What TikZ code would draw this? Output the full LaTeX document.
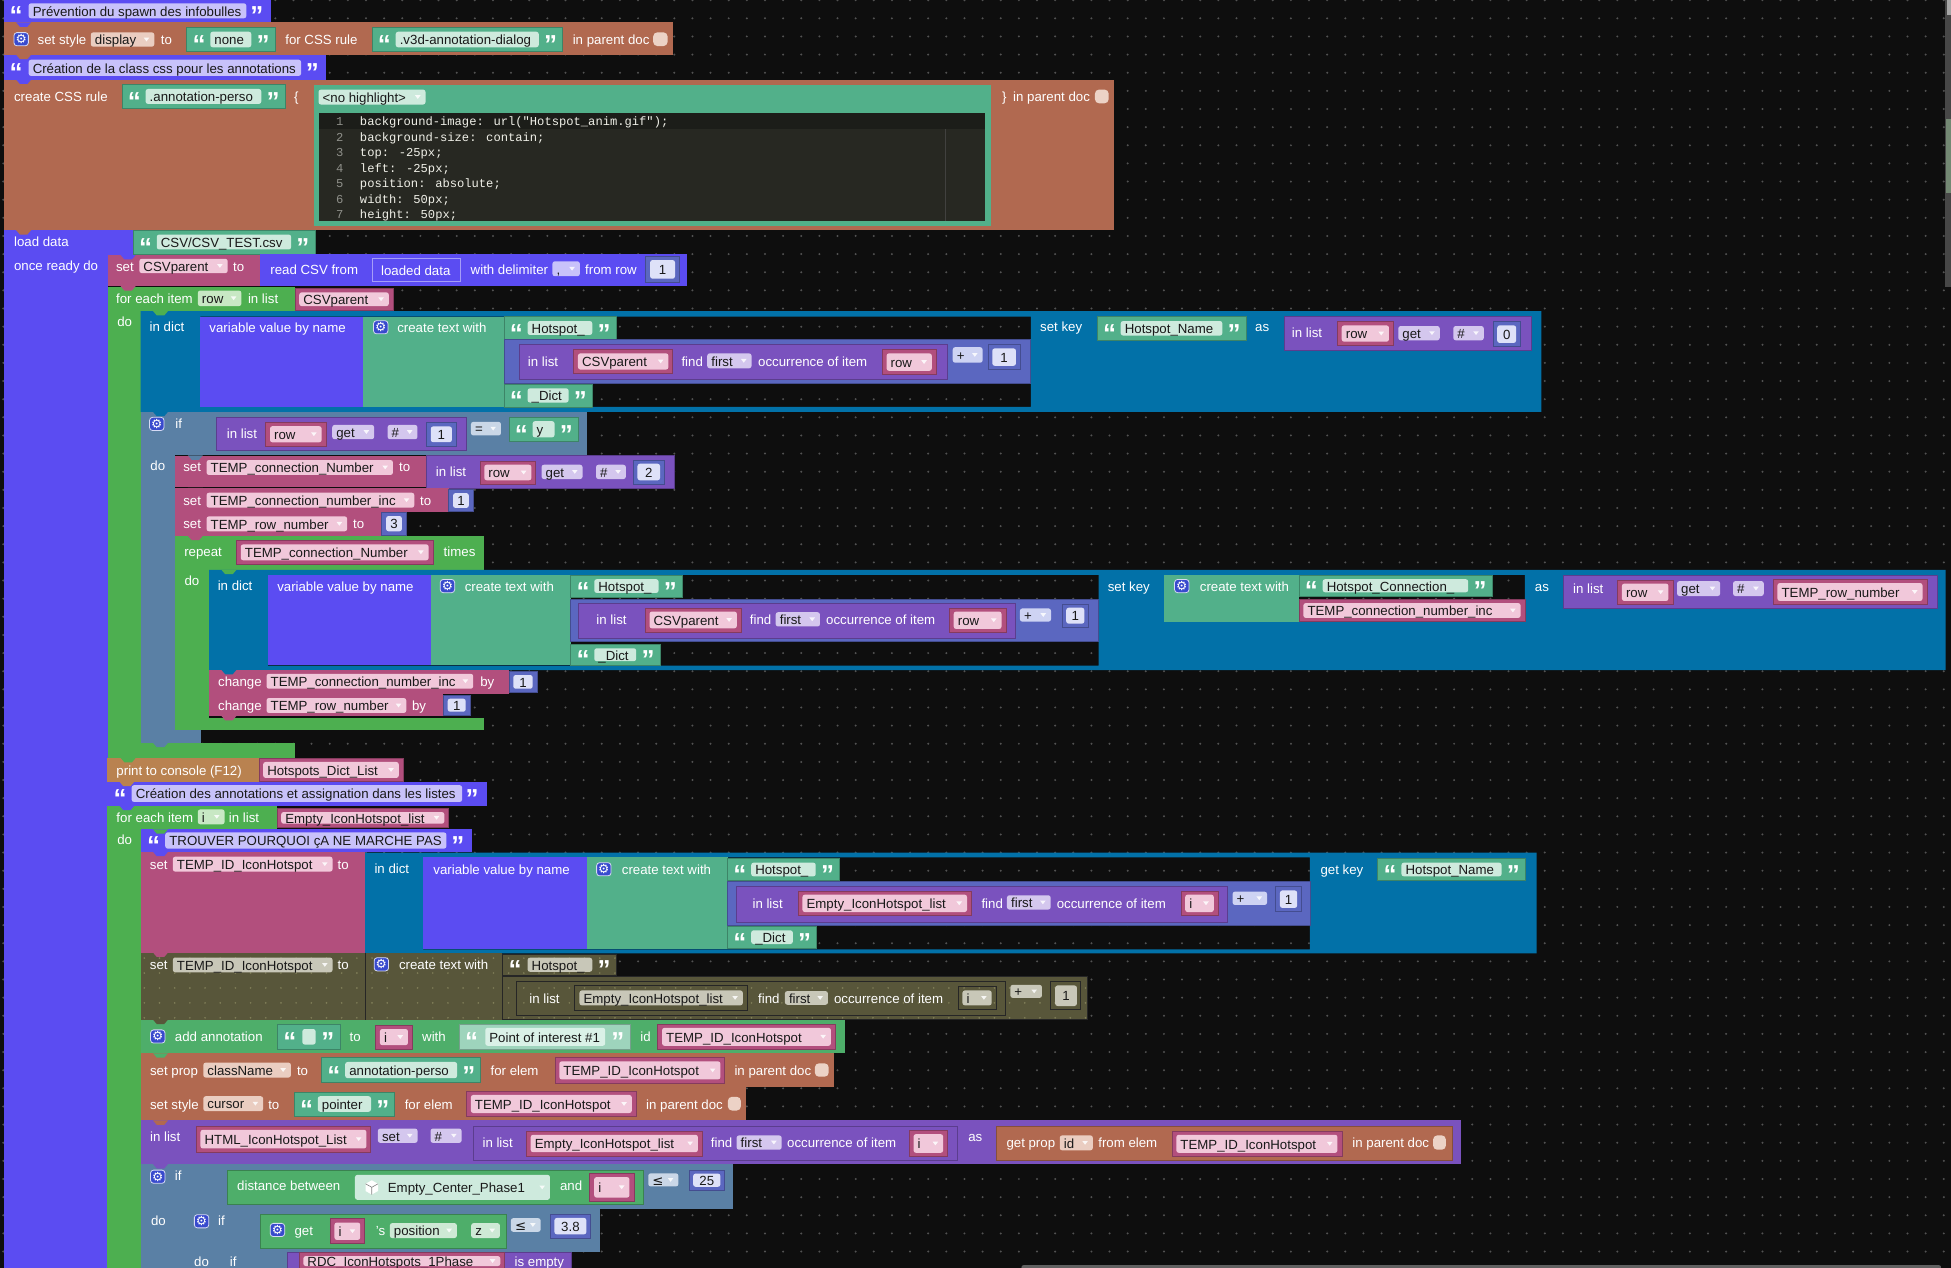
\documentclass[tikz,border=0pt]{standalone}
\usepackage{fontspec}
\setmainfont{Liberation Sans}
\newfontfamily\codefont{Liberation Mono}
\newfontfamily\symfont{DejaVu Sans}
\definecolor{bg}{RGB}{14,14,14}
\definecolor{dotc}{RGB}{82,82,82}
\definecolor{vio}{RGB}{91,76,242}
\definecolor{viof}{RGB}{200,194,250}
\definecolor{brn}{RGB}{177,105,80}
\definecolor{brnf}{RGB}{234,205,193}
\definecolor{ctxt}{RGB}{82,176,138}
\definecolor{ctxtf}{RGB}{206,234,221}
\definecolor{ctxtl}{RGB}{158,212,188}
\definecolor{ctxtll}{RGB}{218,241,231}
\definecolor{cvar}{RGB}{178,79,125}
\definecolor{cvarf}{RGB}{241,200,218}
\definecolor{clist}{RGB}{122,82,190}
\definecolor{clistf}{RGB}{212,199,238}
\definecolor{cmath}{RGB}{91,103,192}
\definecolor{cmathf}{RGB}{206,211,243}
\definecolor{cnumf}{RGB}{222,225,248}
\definecolor{cloop}{RGB}{77,175,80}
\definecolor{cloopf}{RGB}{200,232,196}
\definecolor{cdict}{RGB}{2,113,168}
\definecolor{clogic}{RGB}{90,128,165}
\definecolor{clogicf}{RGB}{202,215,231}
\definecolor{cprint}{RGB}{185,130,80}
\definecolor{colive}{RGB}{88,86,58}
\definecolor{colivef}{RGB}{200,199,184}
\definecolor{colived}{RGB}{128,126,88}
\definecolor{cgreen2}{RGB}{78,174,106}
\definecolor{cgreenf}{RGB}{206,233,213}
\definecolor{cgear}{RGB}{56,74,205}
\definecolor{cchk}{RGB}{236,210,198}
\definecolor{ccode}{RGB}{39,40,34}
\definecolor{ccodehl}{RGB}{28,29,25}
\definecolor{clnum}{RGB}{143,144,138}
\definecolor{ccodetxt}{RGB}{240,240,232}
\newcounter{nt}
\newcommand\lfont{\fontsize{6.63}{7.5}\selectfont}
\tikzset{
  lab/.style={anchor=mid west,inner sep=0pt,text=white,font=\lfont},
  ftx/.style={anchor=mid west,inner sep=0pt,text=black!90,font=\lfont},
  ctx/.style={anchor=mid,inner sep=0pt,text=black!90,font=\lfont},
  qt/.style={anchor=base,inner sep=0pt,text=white,font=\fontsize{13}{13}\selectfont\bfseries},
  codet/.style={anchor=mid west,inner sep=0pt,text=ccodetxt,font=\codefont\fontsize{6.07}{7}\selectfont},
  lnum/.style={anchor=mid,inner sep=0pt,text=clnum,font=\codefont\fontsize{6.07}{7}\selectfont},
  gearg/.style={inner sep=0pt,text=white,font=\symfont\fontsize{6.3}{6.3}\selectfont},
}
\newcommand\blk[5]{\fill[#1,draw=#1!75!black,line width=0.3pt] (#2,#3) rectangle (#4,#5);}
\newcommand\are[5]{\fill[#1] (#2,#3) rectangle (#4,#5);}
\newcommand\lab[3]{\stepcounter{nt}\node[lab,name=t\arabic{nt}] at (#1,#2) {#3};}
\newcommand\fld[6]{\fill[#1,rounded corners=1.2pt] (#2,#3) rectangle (#4,#5);\stepcounter{nt}\node[ftx,name=t\arabic{nt}] at ({#2+3},{(#3+#5)/2}) {#6};}
\newcommand\dda[2]{\fill[white,opacity=0.85] ({#1-8.5},{#2-1.5}) -- ({#1-4},{#2-1.5}) -- ({#1-6.25},{#2+1.5}) -- cycle;}
\newcommand\dd[6]{\fld{#1}{#2}{#3}{#4}{#5}{#6}\dda{#4}{(#3+#5)/2}}
\newcommand\varb[5]{\blk{cvar}{#1}{#2}{#3}{#4}\dd{cvarf}{#1+3.5}{#2+3}{#3-3.5}{#4-3}{#5}}
\newcommand\numb[5]{\blk{cmath}{#1}{#2}{#3}{#4}\fill[cnumf,rounded corners=1.2pt] ({#1+3.5},{#2+3}) rectangle ({#3-3.5},{#4-3});\stepcounter{nt}\node[ctx,name=t\arabic{nt}] at ({(#1+#3)/2},{(#2+#4)/2}) {#5};}
\newcommand\qL[2]{\stepcounter{nt}\node[qt,name=t\arabic{nt}] at (#1,{#2+11.3}) {“};}
\newcommand\qR[2]{\stepcounter{nt}\node[qt,name=t\arabic{nt}] at (#1,{#2+11.3}) {”};}
\newcommand\strb[5]{\blk{ctxt}{#1}{#2}{#3}{#4}\fld{ctxtf}{#1+19}{#2+3.5}{#3-19}{#4-3.5}{#5}\qL{#1+10}{(#2+#4)/2}\qR{#3-9.5}{(#2+#4)/2}}
\newcommand\gear[2]{\fill[cgear,draw=white!80!cgear,line width=0.4pt,rounded corners=1.5pt] ({#1-5.8},{#2-5.3}) rectangle ({#1+5.8},{#2+5.3});\stepcounter{nt}\node[gearg,name=t\arabic{nt}] at (#1,#2) {⚙};}
\newcommand\chk[4]{\fill[cchk,rounded corners=2pt] (#1,#2) rectangle (#3,#4);}
\newcommand\notch[3]{\fill[#1] ({#2+10},#3) -- ({#2+22},#3) -- ({#2+19},{#3+3.5}) -- ({#2+13},{#3+3.5}) -- cycle;}
\begin{document}
\begin{tikzpicture}[x=0.62215pt,y=-0.62215pt]
\useasboundingbox (0,0) rectangle (1568,1019);
\clip (0,0) rectangle (1568,1019);
\fill[bg] (0,0) rectangle (1568,1019);
\foreach \j in {0,...,70}{\fill[dotc] \foreach \i in {0,...,107}{({2.65+14.575*\i},{0.16+14.575*\j}) circle (0.9)};}
% ---- comment 1
\are{vio}{3}{-3}{218}{18}
\fld{viof}{23}{2.7}{198}{14.7}{Prévention du spawn des infobulles}
\qL{13}{8.5}\qR{206.5}{8.5}
% ---- set style
\are{brn}{3}{18}{540.7}{44}
\gear{17}{31.5}
\lab{30}{31.5}{set style}
\dd{brnf}{73}{26}{124}{37.5}{display}
\lab{129}{31.5}{to}
\strb{150}{22}{221}{41.5}{none}
\lab{229}{31.5}{for CSS rule}
\strb{299}{22}{452}{41.5}{.v3d-annotation-dialog}
\lab{460}{31.5}{in parent doc}
\chk{525}{26}{536.5}{37}
% ---- comment 2
\are{vio}{3}{44}{262}{64}
\fld{viof}{23}{48}{242}{61}{Création de la class css pour les annotations}
\qL{13}{54.5}\qR{251}{54.5}
% ---- create CSS rule
\are{brn}{3}{64}{895}{185}
\lab{11}{77}{create CSS rule}
\strb{98}{68}{229}{87}{.annotation-perso}
\lab{236}{77}{\{}
\are{ctxt}{252}{68}{796.4}{182}
\dd{ctxtf}{256}{72}{342}{84}{<no highlight>}
\are{ccode}{256}{91}{791.7}{177.6}
\are{ccodehl}{256}{91}{791.7}{103.7}
\draw[black!55!ccode!80!white,line width=0.4pt] (760,103.7) -- (760,177.6);
\node[lnum,name=l1] at (273,97) {1};
\node[lnum,name=l2] at (273,109.45) {2};
\node[lnum,name=l3] at (273,121.9) {3};
\node[lnum,name=l4] at (273,134.35) {4};
\node[lnum,name=l5] at (273,146.8) {5};
\node[lnum,name=l6] at (273,159.25) {6};
\node[lnum,name=l7] at (273,171.7) {7};
\node[codet,name=c1] at (289,97) {background-image: url("Hotspot\_anim.gif");};
\node[codet,name=c2] at (289,109.45) {background-size: contain;};
\node[codet,name=c3] at (289,121.9) {top: -25px;};
\node[codet,name=c4] at (289,134.35) {left: -25px;};
\node[codet,name=c5] at (289,146.8) {position: absolute;};
\node[codet,name=c6] at (289,159.25) {width: 50px;};
\node[codet,name=c7] at (289,171.7) {height: 50px;};
\lab{805}{77}{\}}
\lab{814}{77}{in parent doc}
\chk{880}{72}{891}{83}
% ---- load data
\are{vio}{3}{185}{87}{1030}
\are{vio}{3}{185}{107}{205}
\lab{11}{194}{load data}
\strb{107}{185}{253}{204}{CSV/CSV\_TEST.csv}
\lab{11}{213.5}{once ready do}
\are{cvar}{87}{205}{209}{230}
\lab{93}{214}{set}
\dd{cvarf}{112}{208}{183}{219.5}{CSVparent}
\lab{187}{214}{to}
\are{vio}{209}{204}{552.4}{230}
\lab{217}{216}{read CSV from}
\fill[vio,draw=vio!55!white,line width=0.4pt] (299,208) rectangle (370,226);
\lab{306}{217}{loaded data}
\lab{378}{216}{with delimiter}
\dd{viof}{444}{210}{466}{222}{,}
\lab{470}{216}{from row}
\numb{519}{206}{546}{227}{1}
% ---- for each 1
\are{cloop}{87}{231}{113}{609}
\are{cloop}{87}{231}{237}{250}
\are{cloop}{87}{597}{237}{609}
\lab{93}{240}{for each item}
\dd{cloopf}{159}{233.5}{194}{246}{row}
\lab{199}{240}{in list}
\varb{237}{232}{316}{249}{CSVparent}
\lab{94}{258.5}{do}
% ---- dict 1
\fill[cdict,even odd rule] (113,250) rectangle (1238.8,331) (161,254.5) rectangle (828.4,327);
\lab{120}{262.5}{in dict}
\are{vio}{161}{254.5}{291.7}{327}
\lab{168}{263}{variable value by name}
\are{ctxt}{291.7}{254.5}{405}{327}
\gear{306}{263}
\lab{319}{263}{create text with}
\strb{405}{254.5}{495}{272.7}{Hotspot\_}
\blk{cmath}{405}{273}{828.4}{308}
\blk{clist}{417}{277}{761.7}{305}
\lab{424}{290.5}{in list}
\varb{461}{281}{540.7}{300}{CSVparent}
\lab{547.4}{290.5}{find}
\dd{clistf}{568.4}{284}{604}{296}{first}
\lab{609}{290.5}{occurrence of item}
\varb{709}{281}{752.4}{301}{row}
\dd{cmathf}{765.7}{279}{789.7}{291.5}{+}
\numb{794}{277}{820}{297}{1}
\strb{405}{308.6}{476}{327}{\_Dict}
\lab{835.7}{262.5}{set key}
\strb{881.7}{254.5}{1001.4}{273.2}{Hotspot\_Name}
\lab{1008.4}{262.5}{as}
\blk{clist}{1032.4}{254.5}{1230.8}{281.3}
\lab{1038}{267}{in list}
\varb{1074.8}{258.5}{1119.8}{277.6}{row}
\dd{clistf}{1123.8}{262}{1157.1}{273.5}{get}
\dd{clistf}{1168}{262}{1192.5}{273.5}{\#}
\numb{1199.8}{258.5}{1222}{278.6}{0}
% ---- if 1
\are{clogic}{113}{331}{141}{597}
\are{clogic}{113}{331}{472}{366}
\are{clogic}{113}{587}{161.5}{597}
\gear{126}{340.7}
\lab{140.7}{340.5}{if}
\blk{clist}{174}{335}{375}{361.6}
\lab{182}{348.3}{in list}
\varb{213.5}{339.5}{262}{358.5}{row}
\dd{clistf}{267}{341.5}{300.7}{353}{get}
\dd{clistf}{311.5}{341.5}{335.5}{353}{\#}
\numb{342.7}{339.7}{366.7}{358.4}{1}
\dd{clogicf}{378.5}{339}{402.6}{350}{=}
\strb{409}{335}{464.7}{355}{y}
\lab{120.6}{374.2}{do}
\are{cvar}{141}{366.2}{342.7}{391.6}
\lab{147}{375}{set}
\dd{cvarf}{166}{369.7}{315.8}{381.7}{TEMP\_connection\_Number}
\lab{320.4}{375}{to}
\blk{clist}{342.7}{366.2}{541.8}{392.5}
\lab{350}{379}{in list}
\varb{385.7}{370.5}{430.6}{389}{row}
\dd{clistf}{435.2}{373.5}{468.2}{385}{get}
\dd{clistf}{479}{373.5}{503}{385}{\#}
\numb{508.8}{369.7}{534}{389}{2}
\are{cvar}{141}{392.5}{360.6}{411.2}
\lab{147}{402.2}{set}
\dd{cvarf}{166}{396}{333}{408}{TEMP\_connection\_number\_inc}
\lab{337.3}{402.2}{to}
\numb{360.6}{393.3}{380.3}{411.2}{1}
\are{cvar}{141}{411.5}{306.8}{430.4}
\lab{147}{420.8}{set}
\dd{cvarf}{166}{415}{279}{427}{TEMP\_row\_number}
\lab{283.5}{420.8}{to}
\numb{306.8}{411.7}{326.5}{430}{3}
% ---- repeat
\are{cloop}{141}{430.8}{168}{587}
\are{cloop}{141}{430.8}{389.3}{458}
\are{cloop}{141}{577}{389.3}{587}
\lab{147.8}{443.4}{repeat}
\varb{190}{434.5}{348}{453.3}{TEMP\_connection\_Number}
\lab{356.3}{443.4}{times}
\lab{148}{466.7}{do}
% ---- dict 2
\fill[cdict,even odd rule] (168,458) rectangle (1563.6,538.5) (215.3,462) rectangle (883,535) (935.7,462) rectangle (1225.6,499.6);
\lab{174.7}{470.7}{in dict}
\are{vio}{215.3}{462}{346.2}{534.4}
\lab{222.5}{471.5}{variable value by name}
\are{ctxt}{346.2}{462}{458.6}{534.4}
\gear{359.6}{471}
\lab{373.2}{471.5}{create text with}
\strb{458.6}{462}{548.3}{480}{Hotspot\_}
\blk{cmath}{458.6}{481.7}{883}{515.7}
\blk{clist}{464.6}{485}{815.7}{513}
\lab{479}{498}{in list}
\varb{518.5}{488.5}{595.7}{508}{CSVparent}
\lab{602.4}{498}{find}
\dd{clistf}{623.4}{492}{659}{503.5}{first}
\lab{663.7}{498}{occurrence of item}
\varb{763}{488.5}{808.4}{508.5}{row}
\dd{cmathf}{819.7}{489}{844.7}{499.6}{+}
\numb{853.4}{485.4}{875}{504.2}{1}
\strb{458.6}{517.5}{530.3}{534.9}{\_Dict}
\lab{890}{471}{set key}
\are{ctxt}{935.7}{462}{1044}{499.6}
\gear{949.8}{471}
\lab{964}{471.5}{create text with}
\strb{1044}{462}{1199}{479.5}{Hotspot\_Connection\_}
\varb{1044}{481.7}{1225.6}{499.6}{TEMP\_connection\_number\_inc}
\lab{1233.3}{471}{as}
\blk{clist}{1256}{462}{1557}{489}
\lab{1264}{473}{in list}
\varb{1300}{466}{1344.4}{486}{row}
\dd{clistf}{1347.8}{467}{1382.5}{479}{get}
\dd{clistf}{1392.8}{467}{1417.5}{479}{\#}
\varb{1425}{465.6}{1548.6}{486}{TEMP\_row\_number}
% ---- changes
\are{cvar}{168}{538.4}{409}{557.4}
\lab{175}{547.8}{change}
\dd{cvarf}{214.2}{541.5}{380.3}{553.5}{TEMP\_connection\_number\_inc}
\lab{385.7}{547.8}{by}
\numb{409}{539.5}{431.6}{556.5}{1}
\are{cvar}{168}{557.4}{356.3}{575.4}
\lab{175}{567}{change}
\dd{cvarf}{214.2}{561}{326.5}{573}{TEMP\_row\_number}
\lab{330.8}{567}{by}
\numb{356.3}{558.5}{377.8}{575}{1}
% ---- print / comment 3
\are{cprint}{86}{609.4}{208}{628.2}
\lab{93.3}{618.8}{print to console (F12)}
\varb{208}{609.4}{324}{628.2}{Hotspots\_Dict\_List}
\are{vio}{86}{628.2}{391}{647.5}
\fld{viof}{105.8}{631}{371.4}{644.5}{Création des annotations et assignation dans les listes}
\qL{96.5}{637.7}\qR{379.5}{637.7}
% ---- for each 2
\are{cloop}{86}{647.5}{113}{1030}
\are{cloop}{86}{647.5}{222.5}{666.5}
\lab{93.3}{656.5}{for each item}
\dd{cloopf}{159}{650.5}{180.5}{662.5}{i}
\lab{183.7}{656.5}{in list}
\varb{222.5}{649.6}{360.6}{665}{Empty\_IconHotspot\_list}
\lab{94}{674.5}{do}
\are{vio}{113}{666.5}{379.6}{684.6}
\fld{viof}{132.8}{669}{358.8}{682}{TROUVER POURQUOI çA NE MARCHE PAS}
\qL{123.5}{675.5}\qR{368}{675.5}
% ---- set TEMP_ID + dict 3
\are{cvar}{113}{684.6}{293.5}{765.6}
\lab{120.2}{694.4}{set}
\dd{cvarf}{138.9}{688.5}{267.3}{700.5}{TEMP\_ID\_IconHotspot}
\lab{271}{694.4}{to}
\fill[cdict,even odd rule] (293.5,685.3) rectangle (1235,766.2) (340,689) rectangle (1052.8,763);
\lab{300.7}{697.8}{in dict}
\are{vio}{340}{689}{471.8}{763}
\lab{348}{698.6}{variable value by name}
\are{ctxt}{471.8}{689}{584.7}{763}
\gear{485.3}{698.6}
\lab{499.5}{698.6}{create text with}
\strb{584.7}{689.8}{674.6}{707.8}{Hotspot\_}
\blk{cmath}{584.7}{708.6}{1052.8}{743.4}
\blk{clist}{591.6}{712.6}{986}{741.5}
\lab{604.5}{725.5}{in list}
\varb{641.4}{716}{780.7}{736}{Empty\_IconHotspot\_list}
\lab{788.5}{725.5}{find}
\dd{clistf}{809.3}{719.5}{844.4}{731}{first}
\lab{849}{725.5}{occurrence of item}
\varb{949}{716}{979}{736}{i}
\dd{cmathf}{990.6}{716.6}{1018.3}{727.3}{+}
\numb{1025.2}{712.6}{1046}{732.7}{1}
\strb{584.7}{744.2}{656.2}{762.2}{\_Dict}
\lab{1061}{698.7}{get key}
\strb{1107.3}{689.8}{1225.8}{707.8}{Hotspot\_Name}
% ---- disabled olive block
\fill[colive] (113,765.6) rectangle (403.5,819.5);
\fill[colive] (403.5,767) rectangle (495.2,783.6);
\fill[colive] (403.5,784.9) rectangle (874.3,819.5);
\begin{scope}
\clip (113,765.6) rectangle (403.5,819.5) (403.5,767) rectangle (495.2,783.6) (403.5,784.9) rectangle (874.3,819.5);
\foreach \j in {0,...,4}{\fill[colived] \foreach \i in {0,...,62}{({116+12.2*\i},{770+12*\j}) circle (0.75)};}
\end{scope}
\draw[black!85,line width=0.5pt] (293.5,765.6) -- (293.5,819.5);
\draw[black!85,line width=0.5pt] (403.5,767) rectangle (495.2,783.6);
\draw[black!85,line width=0.5pt] (403.5,784.9) rectangle (874.3,819.5);
\draw[black!85,line width=0.5pt] (415,788.9) rectangle (808.4,816.5);
\draw[black!85,line width=0.5pt] (462,792) rectangle (600.5,812);
\draw[black!85,line width=0.5pt] (770,792.9) rectangle (800.6,811.7);
\draw[black!85,line width=0.5pt] (844.5,789) rectangle (868.5,811.5);
\lab{120.2}{775}{set}
\dd{colivef}{138.9}{769.6}{267.3}{781.4}{TEMP\_ID\_IconHotspot}
\lab{271}{775}{to}
\gear{306.5}{775}
\lab{320.4}{775}{create text with}
\fld{colivef}{424}{769.7}{476}{781}{Hotspot\_}
\qL{414}{775.3}\qR{485.5}{775.3}
\lab{425.2}{802.2}{in list}
\dd{colivef}{465.7}{796}{597}{808}{Empty\_IconHotspot\_list}
\lab{609}{802.2}{find}
\dd{colivef}{630.8}{796.5}{665.4}{807.5}{first}
\lab{670}{802.2}{occurrence of item}
\dd{colivef}{773.5}{796}{797}{808}{i}
\dd{colivef}{812}{791.5}{837.4}{802}{+}
\fill[colivef,rounded corners=1.2pt] (848,792) rectangle (865.5,808.5);
\node[ctx,name=o1] at (856.7,800.2) {1};
% ---- add annotation
\are{cgreen2}{113}{819.5}{679.5}{846.5}
\gear{126.8}{833}
\lab{140.3}{833}{add annotation}
\blk{ctxt}{223}{823.5}{273.7}{843}
\fill[ctxtf,rounded corners=1.2pt] (243,827) rectangle (253.7,839.5);
\qL{233}{833.2}\qR{263.5}{833.2}
\lab{280.7}{833}{to}
\varb{301.8}{824}{331.4}{843}{i}
\lab{339}{833}{with}
\blk{ctxtl}{369}{823.5}{506.7}{843}
\fld{ctxtll}{390}{826}{486.4}{840.5}{Point of interest \#1}
\qL{379}{833.2}\qR{496.5}{833.2}
\lab{514.4}{833}{id}
\varb{528.6}{823}{671.3}{843.5}{TEMP\_ID\_IconHotspot}
% ---- set prop
\are{brn}{113}{846.5}{670}{873.3}
\lab{120.3}{860}{set prop}
\dd{brnf}{163.4}{854}{233.8}{866}{className}
\lab{238.4}{860}{to}
\strb{258.4}{850}{386.4}{870}{annotation-perso}
\lab{394}{860}{for elem}
\varb{446}{850}{582.5}{870.5}{TEMP\_ID\_IconHotspot}
\lab{590}{860}{in parent doc}
\chk{654.9}{854.6}{666}{865.3}
% ---- set style 2
\are{brn}{113}{873.3}{599.5}{900.5}
\lab{120.3}{887.2}{set style}
\dd{brnf}{163.4}{881}{211.5}{893}{cursor}
\lab{215.3}{887.2}{to}
\strb{236.4}{877.5}{317.2}{897}{pointer}
\lab{325}{887.2}{for elem}
\varb{374.9}{877}{511.3}{897.5}{TEMP\_ID\_IconHotspot}
\lab{519}{887.2}{in parent doc}
\chk{585}{881.5}{595.4}{892.5}
% ---- in list set
\are{clist}{113}{900.5}{1174.3}{935.6}
\lab{120.3}{913}{in list}
\varb{157.6}{905}{298}{926}{HTML\_IconHotspot\_List}
\dd{clistf}{303.7}{907}{335.6}{918.5}{set}
\dd{clistf}{346}{907}{371}{918.5}{\#}
\blk{clist}{380.6}{905.4}{769.7}{932.2}
\lab{387.5}{918.3}{in list}
\varb{423}{909}{564.4}{929}{Empty\_IconHotspot\_list}
\lab{571}{918.3}{find}
\dd{clistf}{592}{912.5}{628.2}{924}{first}
\lab{632.3}{918.3}{occurrence of item}
\varb{730.7}{908.5}{761.5}{929.5}{i}
\lab{777.9}{913.5}{as}
\blk{brn}{800.4}{905.5}{1167.4}{932.8}
\lab{808.6}{918.3}{get prop}
\dd{brnf}{851.7}{912.5}{878.3}{924.5}{id}
\lab{882.4}{918.3}{from elem}
\varb{941.9}{909}{1078.4}{929.5}{TEMP\_ID\_IconHotspot}
\lab{1086.6}{918.3}{in parent doc}
\chk{1151.8}{912.5}{1162}{924}
% ---- if 2
\are{clogic}{113}{935.6}{149.2}{1030}
\are{clogic}{113}{935.6}{589.4}{971.5}
\gear{126.8}{945.7}
\lab{140.3}{944.4}{if}
\blk{cgreen2}{182.6}{940.2}{517}{967.5}
\lab{190.3}{952.5}{distance between}
\fill[ctxtf,rounded corners=1.2pt] (285.3,944.2) rectangle (442,964.3);
\fill[white] (298.8,948.6) -- (303.8,951.4) -- (303.8,957.2) -- (298.8,960) -- (293.8,957.2) -- (293.8,951.4) -- cycle;
\draw[gray,line width=0.3pt] (293.8,951.4) -- (298.8,954.2) -- (303.8,951.4) (298.8,954.2) -- (298.8,960);
\node[ftx,name=e1] at (311.4,954.3) {Empty\_Center\_Phase1};
\dda{442}{954.3}
\lab{449.8}{952.5}{and}
\varb{474}{943}{509.4}{965.5}{i}
\dd{clogicf}{521}{943}{545.2}{953.5}{{\symfont ≤}}
\numb{553.6}{940.2}{582.5}{956.8}{25}
\lab{121.1}{980.4}{do}
\are{clogic}{149.2}{971.5}{175}{1030}
\are{clogic}{149.2}{971.5}{482.5}{1006}
\gear{162}{981.5}
\lab{175}{980.4}{if}
\blk{cgreen2}{209.5}{975.8}{406.8}{1003.2}
\gear{223}{988.5}
\lab{236.4}{989}{get}
\varb{265.3}{979.5}{293}{999.5}{i}
\lab{301.8}{989}{'s}
\dd{cgreenf}{313.3}{983}{367.2}{995}{position}
\dd{cgreenf}{378.7}{983}{401.8}{995}{z}
\dd{clogicf}{410.6}{979}{434.5}{990}{{\symfont ≤}}
\numb{442.1}{975.8}{474.8}{995}{3.8}
\lab{155.7}{1013.5}{do}
\are{clogic}{175}{1006}{459.4}{1030}
\lab{184.5}{1013.5}{if}
\blk{clist}{230.7}{1006.5}{459.4}{1030}
\varb{240.3}{1006.5}{405.6}{1020.5}{RDC\_IconHotspots\_1Phase}
\lab{413.3}{1013.5}{is empty}
% ---- notches
\notch{vio}{3}{18}
\notch{brn}{3}{44}
\notch{vio}{3}{64}
\notch{brn}{3}{185}
\notch{vio}{87}{205}
\notch{cvar}{87}{230}
\notch{cloop}{113}{250}
\notch{cdict}{113}{331}
\notch{clogic}{141}{366}
\notch{cvar}{141}{392}
\notch{cvar}{141}{411.4}
\notch{cvar}{141}{430.6}
\notch{cloop}{168}{458}
\notch{cdict}{168}{538.4}
\notch{cvar}{168}{557.4}
\notch{cvar}{168}{575.4}
\notch{clogic}{113}{597}
\notch{cloop}{87}{609.2}
\notch{cprint}{86}{628.2}
\notch{vio}{86}{647.5}
\notch{cloop}{113}{666.5}
\notch{vio}{113}{684.6}
\notch{cvar}{113}{765.6}
\notch{colive}{113}{819.5}
\notch{cgreen2}{113}{846.5}
\notch{brn}{113}{873.3}
\notch{brn}{113}{900.5}
\notch{clist}{113}{935.6}
% ---- scrollbars
\fill[black!62,rounded corners=1pt] (820.9,1016.8) rectangle (1560,1020);
\fill[black!72] (1563,0) rectangle (1568,230.5);
\fill[black!35] (1565,0) rectangle (1568,12);
\fill[green!15!black!55] (1564,96) rectangle (1568,155);
\end{tikzpicture}
\end{document}
